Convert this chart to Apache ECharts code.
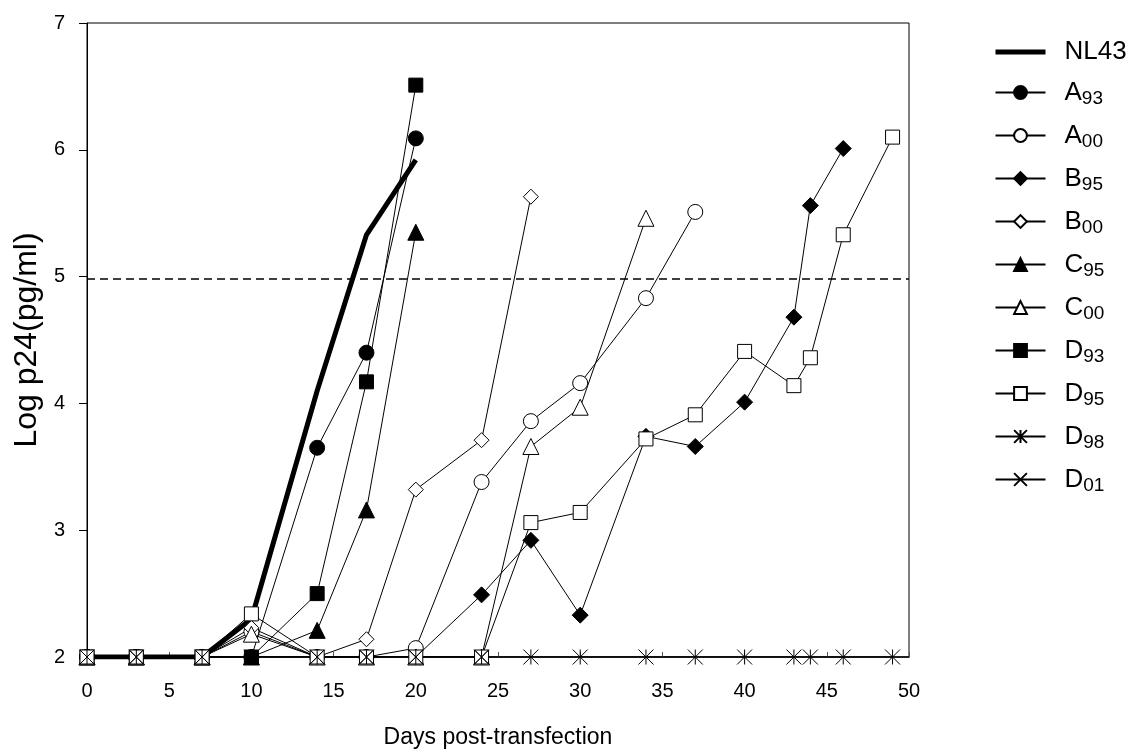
<!DOCTYPE html>
<html>
<head>
<meta charset="utf-8">
<script src="https://cdn.jsdelivr.net/npm/echarts@6/dist/echarts.min.js"></script>
<style>
  body { margin: 0; background: #fff; }
  #chart { width: 1135px; height: 755px; }
</style>
</head>
<body>
<div id="chart"></div>
<script>
  // days of sampling
  var days = [0, 3, 7, 10, 14, 17, 20, 24, 27, 30, 34, 37, 40, 43, 44, 46, 49];

  // log p24 per virus, aligned with days (null = not measured)
  var nl43 = [2, 2, 2, 2.3, 4.1, 5.33, 5.92];
  var a93 = [2, 2, 2, 2, 3.65, 4.4, 6.09];
  var a00 = [2, 2, 2, 2.2, 2, 2, 2.07, 3.38, 3.86, 4.16, 4.83, 5.51];
  var b95 = [2, 2, 2, 2, 2, 2, 2, 2.49, 2.92, 2.33, 3.74, 3.66, 4.01, 4.68, 5.56, 6.01];
  var b00 = [2, 2, 2, 2.23, 2, 2.14, 3.32, 3.71, 5.63];
  var c95 = [2, 2, 2, 2, 2.21, 3.16, 5.35];
  var c00 = [2, 2, 2, 2.18, 2, 2, 2, 2, 3.66, 3.97, 5.46];
  var d93 = [2, 2, 2, 2, 2.5, 4.17, 6.51];
  var d95 = [2, 2, 2, 2.34, 2, 2, 2, 2, 3.06, 3.14, 3.72, 3.91, 4.41, 4.14, 4.36, 5.33, 6.1];
  var d98 = [2, 2, 2, 2, 2, 2, 2, 2, 2, 2, 2, 2, 2, 2, 2, 2, 2];
  var d01 = [2, 2, 2, 2, 2, 2, 2, 2];

  var threshold = 4.98;
  var yTicks = [2, 3, 4, 5, 6, 7];

  var FONT = 'Liberation Sans, Arial, sans-serif';
  var asterisk = 'path://M0,0L10,10M10,0L0,10M5,0L5,10';
  var cross = 'path://M0,0L10,10M10,0L0,10';

  function pairs(vals) {
    var out = [];
    vals.forEach(function (v, i) {
      if (v !== null) out.push([days[i], v]);
    });
    return out;
  }

  function mk(name, vals, symbol, filled, size) {
    return {
      name: name,
      type: 'line',
      data: pairs(vals),
      symbol: symbol,
      symbolSize: size || 14,
      showAllSymbol: true,
      lineStyle: { color: '#000', width: 1 },
      itemStyle: {
        color: filled ? '#000' : '#fff',
        borderColor: '#000',
        borderWidth: 1
      },
      emphasis: { disabled: true }
    };
  }

  var series = [
    {
      name: 'NL43',
      type: 'line',
      data: pairs(nl43),
      symbol: 'circle',
      showSymbol: false,
      lineStyle: { color: '#000', width: 5 },
      itemStyle: { color: '#000' },
      emphasis: { disabled: true },
      markLine: {
        silent: true,
        symbol: 'none',
        label: { show: false },
        lineStyle: { color: '#000', type: [8, 5], width: 1.5 },
        data: [{ yAxis: threshold }]
      }
    },
    mk('A93', a93, 'circle', true, 15),
    mk('A00', a00, 'circle', false, 15),
    mk('B95', b95, 'diamond', true, 16),
    mk('B00', b00, 'diamond', false, 15),
    mk('C95', c95, 'triangle', true, 16),
    mk('C00', c00, 'triangle', false, 16),
    mk('D93', d93, 'rect', true, 14),
    mk('D95', d95, 'rect', false, 14),
    mk('D98', d98, asterisk, false, 15),
    mk('D01', d01, cross, false, 14)
  ];

  var legendData = series.map(function (s) {
    if (s.name === 'NL43') {
      return { name: s.name, itemStyle: { opacity: 0 }, lineStyle: { width: 5, color: '#000' } };
    }
    return { name: s.name };
  });

  var myCharts = echarts.init(document.getElementById('chart'));
  var option = {
    animation: false,
    textStyle: { fontFamily: FONT, color: '#000' },
    grid: {
      left: 87,
      top: 23,
      right: 226,
      bottom: 98,
      show: true,
      borderColor: '#000',
      borderWidth: 1
    },
    legend: {
      orient: 'vertical',
      left: 988,
      top: 34,
      itemWidth: 50,
      itemHeight: 16,
      itemGap: 12,
      selectedMode: false,
      data: legendData,
      formatter: function (name) {
        if (name === 'NL43') return '{b|NL43}';
        return '{b|' + name.charAt(0) + '}{s|' + name.slice(1) + '}';
      },
      textStyle: {
        color: '#000',
        padding: [0, 0, 0, 14],
        rich: {
          b: { fontSize: 26, lineHeight: 28, fontFamily: FONT, color: '#000' },
          s: { fontSize: 19, lineHeight: 28, fontFamily: FONT, color: '#000', padding: [12, 0, 0, 0] }
        }
      }
    },
    xAxis: {
      type: 'value',
      min: 0,
      max: 50,
      interval: 5,
      name: 'Days post-transfection',
      nameLocation: 'middle',
      nameGap: 69,
      nameTextStyle: { fontSize: 23, color: '#000', fontFamily: FONT },
      splitLine: { show: false },
      axisLine: { lineStyle: { color: '#000', width: 1.5 } },
      axisTick: { inside: true, length: 5, lineStyle: { color: '#555' } },
      axisLabel: { fontSize: 20, color: '#000', margin: 24 }
    },
    yAxis: {
      type: 'value',
      min: yTicks[0],
      max: yTicks[yTicks.length - 1],
      interval: 1,
      name: 'Log p24(pg/ml)',
      nameLocation: 'middle',
      nameGap: 40,
      nameRotate: 90,
      nameTextStyle: { fontSize: 32, color: '#000', fontFamily: FONT },
      splitLine: { show: false },
      axisLine: { show: true, lineStyle: { color: '#000', width: 1 } },
      axisTick: { show: true, length: 8, lineStyle: { color: '#000' } },
      axisLabel: { fontSize: 20, color: '#000', margin: 22 }
    },
    series: series
  };
  myCharts.setOption(option);
</script>
</body>
</html>
